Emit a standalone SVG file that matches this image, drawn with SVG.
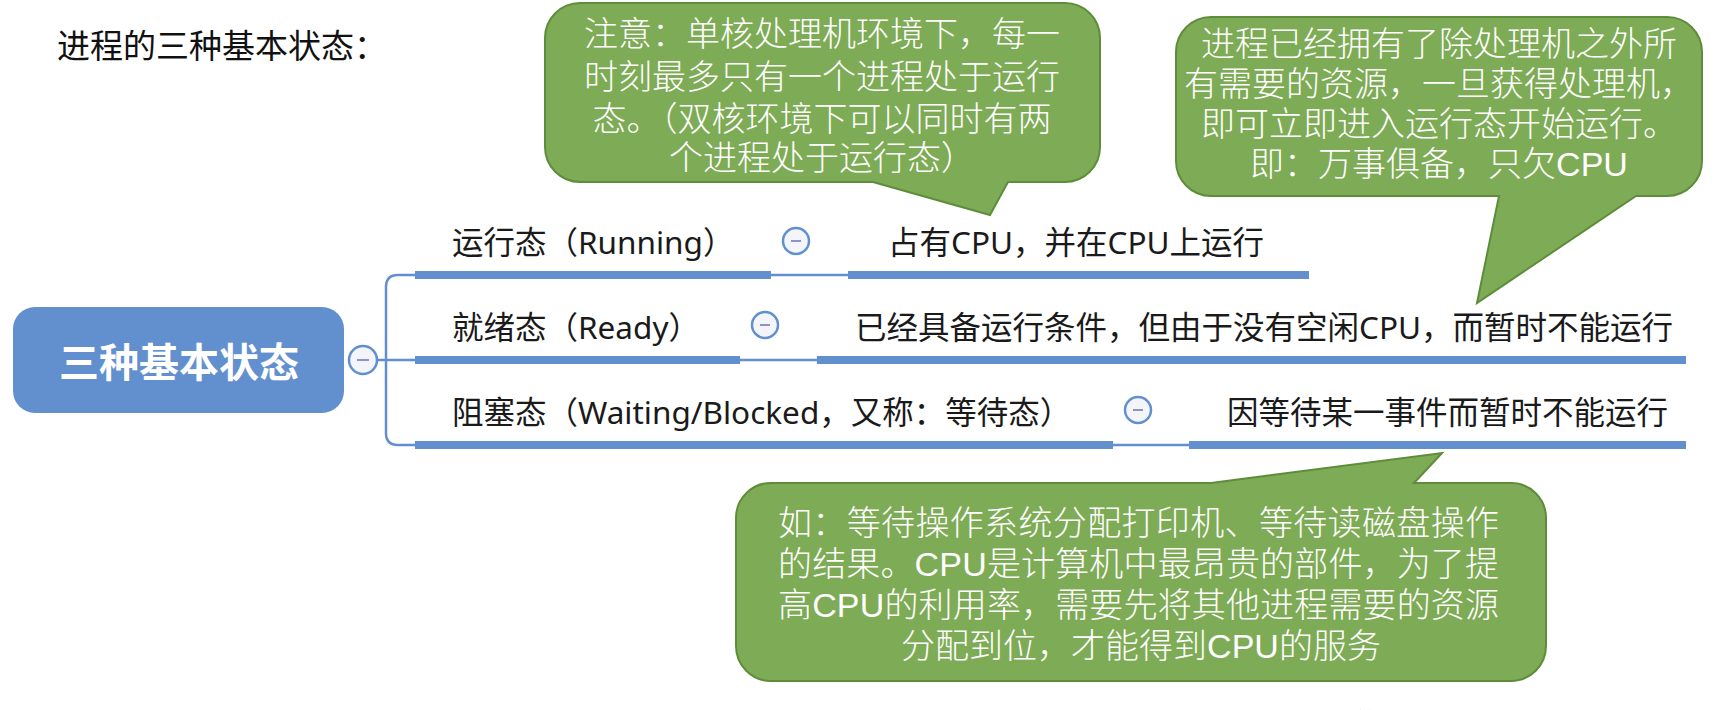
<svg xmlns="http://www.w3.org/2000/svg" width="1736" height="710" viewBox="0 0 1736 710">
<style>
.row{font-family:"Noto Sans","Noto Sans CJK SC",sans-serif;font-size:31.5px;fill:#1a1a1a}
.bar{stroke:#6290CF;stroke-width:8;fill:none}
.thin{stroke:#6290CF;stroke-width:2.5;fill:none}
.btn{fill:#F4F5FA;stroke:#6290CF;stroke-width:2.5}
.minus{stroke:#8F93BF;stroke-width:2}
.bub{fill:#7EAB55;stroke:#5E8C3A;stroke-width:2}
.bt{font-family:"Liberation Sans","Noto Sans CJK SC",sans-serif;font-size:34px;fill:#ffffff;font-weight:300}
</style>
<rect width="1736" height="710" fill="#ffffff"/>
<g id="title">
<text x="57" y="58" font-family="Liberation Serif, Noto Sans CJK SC, serif" font-size="33" fill="#111">进程的三种基本状态：</text>
</g>
<g id="connectors">
<path class="thin" d="M415 275 H398 Q386 275 386 287 V433 Q386 445 398 445 H415"/>
<path class="thin" d="M377 360 H415"/>
<path class="thin" d="M771 275 H848"/>
<path class="thin" d="M740 360 H817"/>
<path class="thin" d="M1113 445 H1189"/>
</g>
<g id="root">
<rect x="13" y="307" width="331" height="106" rx="22" fill="#6290CF"/>
<text x="179" y="377" text-anchor="middle" font-family="Noto Sans CJK SC, sans-serif" font-size="40" font-weight="bold" fill="#ffffff">三种基本状态</text>
<circle class="btn" cx="363" cy="360" r="14"/>
<line class="minus" x1="357" y1="360" x2="369" y2="360"/>
</g>
<g id="running">
<text class="row" x="452" y="254">运行态（Running）</text>
<line class="bar" x1="415" y1="275" x2="771" y2="275"/>
<circle class="btn" cx="796" cy="241" r="13"/>
<line class="minus" x1="791" y1="241" x2="801" y2="241"/>
</g>
<g id="running-desc">
<text class="row" x="888" y="254">占有CPU，并在CPU上运行</text>
<line class="bar" x1="848" y1="275" x2="1309" y2="275"/>
</g>
<g id="ready">
<text class="row" x="452" y="339">就绪态（Ready）</text>
<line class="bar" x1="415" y1="360" x2="740" y2="360"/>
<circle class="btn" cx="765" cy="325" r="13"/>
<line class="minus" x1="760" y1="325" x2="770" y2="325"/>
</g>
<g id="ready-desc">
<text class="row" x="855" y="339">已经具备运行条件，但由于没有空闲CPU，而暂时不能运行</text>
<line class="bar" x1="817" y1="360" x2="1686" y2="360"/>
</g>
<g id="blocked">
<text class="row" x="452" y="424">阻塞态（Waiting/Blocked，又称：等待态）</text>
<line class="bar" x1="415" y1="445" x2="1113" y2="445"/>
<circle class="btn" cx="1138" cy="410" r="13"/>
<line class="minus" x1="1133" y1="410" x2="1143" y2="410"/>
</g>
<g id="blocked-desc">
<text class="row" x="1227" y="424">因等待某一事件而暂时不能运行</text>
<line class="bar" x1="1189" y1="445" x2="1686" y2="445"/>
</g>
<g id="note-running">
<path class="bub" d="M580 3 H1065 A35 35 0 0 1 1100 38 V147 A35 35 0 0 1 1065 182 H1008 L990 215 L873 182 H580 A35 35 0 0 1 545 147 V38 A35 35 0 0 1 580 3 Z"/>
<text class="bt" x="822" y="46" text-anchor="middle">注意：单核处理机环境下，每一</text>
<text class="bt" x="822" y="89" text-anchor="middle">时刻最多只有一个进程处于运行</text>
<text class="bt" x="822" y="131" text-anchor="middle">态。（双核环境下可以同时有两</text>
<text class="bt" x="822" y="170" text-anchor="middle">个进程处于运行态）</text>
</g>
<g id="note-ready">
<path class="bub" d="M1211 17 H1667 A35 35 0 0 1 1702 52 V161 A35 35 0 0 1 1667 196 H1636 L1477 303 L1499 196 H1211 A35 35 0 0 1 1176 161 V52 A35 35 0 0 1 1211 17 Z"/>
<text class="bt" x="1439" y="56" text-anchor="middle">进程已经拥有了除处理机之外所</text>
<text class="bt" x="1439" y="96" text-anchor="middle">有需要的资源，一旦获得处理机，</text>
<text class="bt" x="1439" y="136" text-anchor="middle">即可立即进入运行态开始运行。</text>
<text class="bt" x="1439" y="176" text-anchor="middle">即：万事俱备，只欠CPU</text>
</g>
<g id="note-blocked">
<path class="bub" d="M771 483 H1211 L1442 453 L1414 483 H1511 A35 35 0 0 1 1546 518 V646 A35 35 0 0 1 1511 681 H771 A35 35 0 0 1 736 646 V518 A35 35 0 0 1 771 483 Z"/>
<text class="bt" x="778" y="535" textLength="721" lengthAdjust="spacing">如：等待操作系统分配打印机、等待读磁盘操作</text>
<text class="bt" x="778" y="576" textLength="721" lengthAdjust="spacing">的结果。CPU是计算机中最昂贵的部件，为了提</text>
<text class="bt" x="778" y="617" textLength="721" lengthAdjust="spacing">高CPU的利用率，需要先将其他进程需要的资源</text>
<text class="bt" x="1141" y="658" text-anchor="middle">分配到位，才能得到CPU的服务</text>
</g>
<g id="watermark">
<text x="1315" y="736" font-family="Noto Sans CJK SC, sans-serif" font-size="31" fill="#B5432A">王道考研</text>
</g>
</svg>
